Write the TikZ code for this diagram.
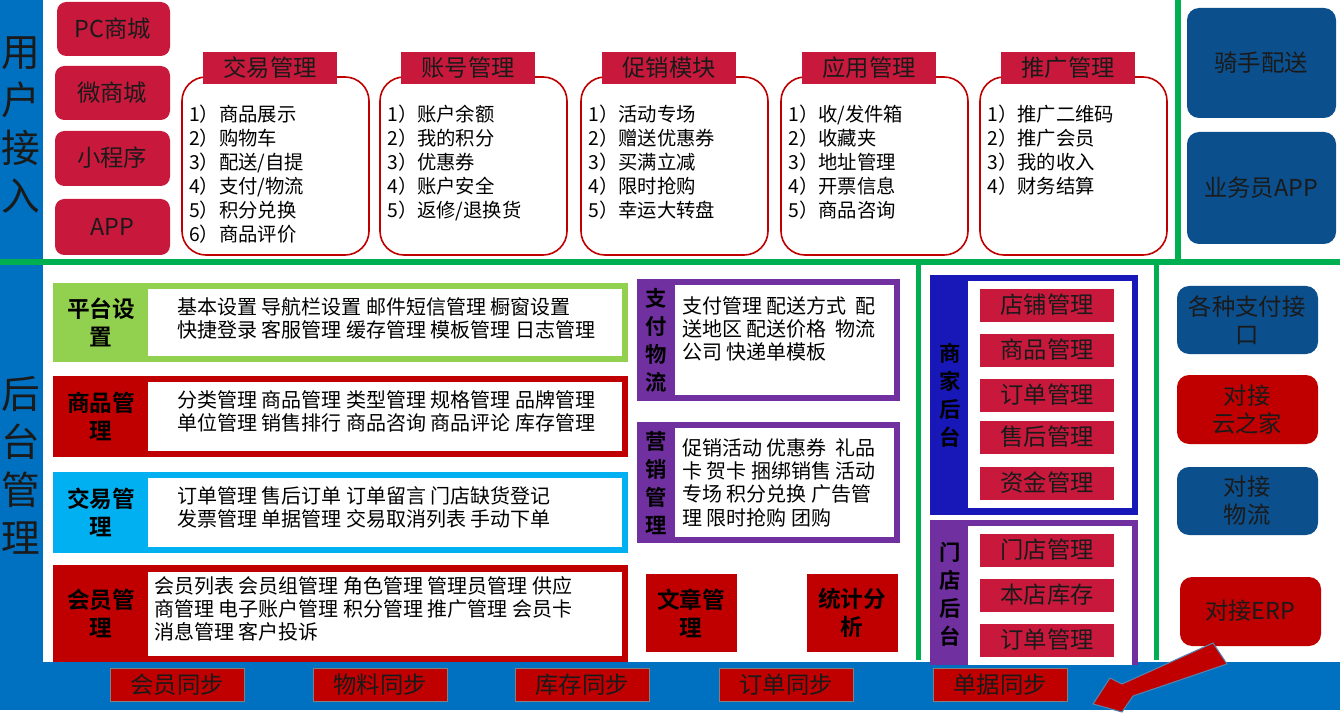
\documentclass[tikz,border=0pt]{standalone}
\usepackage{fontspec}
\setmainfont{Noto Sans CJK SC}
\newfontfamily\cjkb{Noto Sans CJK SC Bold}
\definecolor{bbar}{HTML}{0070C0}
\definecolor{gline}{HTML}{00B050}
\definecolor{crim}{HTML}{C8193C}
\definecolor{dred}{HTML}{C00000}
\definecolor{nblue}{HTML}{0B4F8C}
\definecolor{lgreen}{HTML}{92D050}
\definecolor{cyanb}{HTML}{00B0F0}
\definecolor{purp}{HTML}{7030A0}
\definecolor{rblue}{HTML}{1818B8}
\definecolor{dtext}{HTML}{1A1A1A}
\tikzset{
 btxt/.style={font=\fontsize{17.5}{19}\selectfont,text=dtext},
 btxtc/.style={font=\fontsize{17.5}{21}\selectfont,text=dtext,align=center},
 lst/.style={anchor=north west,align=left,font=\fontsize{14.5}{18}\selectfont,text=black,inner sep=0pt},
 rowlab/.style={font=\cjkb\fontsize{17}{21}\selectfont,align=center,text=black},
 collab/.style={font=\cjkb\fontsize{16}{21}\selectfont,align=center,text=black},
 rowtxt/.style={anchor=north west,align=left,font=\fontsize{15}{17.5}\selectfont,text=black,inner sep=0pt},
}
\begin{document}
\begin{tikzpicture}[x=0.75pt,y=-0.75pt]
\useasboundingbox (0,0) rectangle (1340,713);
\fill[white] (0,0) rectangle (1340,713);
\fill[bbar] (0,0) rectangle (43,665);
\fill[bbar] (0,662) rectangle (1340,710);
\node[font=\fontsize{29}{36}\selectfont,align=center,text=dtext] (ua) at (21,125) {用\\户\\接\\入};
\node[font=\fontsize{29}{36}\selectfont,align=center,text=dtext] (ht) at (21,465) {后\\台\\管\\理};
\fill[gline] (0,259) rectangle (1340,265);
\fill[gline] (1175,0) rectangle (1181,262);
\fill[gline] (916,262) rectangle (921,660);
\fill[gline] (1154,262) rectangle (1159,660);
\fill[crim,rounded corners=7pt] (57,2) rectangle (170,56);
\fill[crim,rounded corners=7pt] (55,66) rectangle (170,120);
\fill[crim,rounded corners=7pt] (55,131) rectangle (170,186);
\fill[crim,rounded corners=7pt] (55,199) rectangle (170,255);
\node[btxt] (pct) at (113,29) {PC商城};
\node[btxt] (wsc) at (112,93) {微商城};
\node[btxt] (xcx) at (112,158) {小程序};
\node[btxt] (app) at (112,227) {APP};
\foreach \x/\t/\l [count=\i] in {
 182/交易管理/{1）商品展示\\2）购物车\\3）配送/自提\\4）支付/物流\\5）积分兑换\\6）商品评价},
 380/账号管理/{1）账户余额\\2）我的积分\\3）优惠券\\4）账户安全\\5）返修/退换货},
 581/促销模块/{1）活动专场\\2）赠送优惠券\\3）买满立减\\4）限时抢购\\5）幸运大转盘},
 781/应用管理/{1）收/发件箱\\2）收藏夹\\3）地址管理\\4）开票信息\\5）商品咨询},
 980/推广管理/{1）推广二维码\\2）推广会员\\3）我的收入\\4）财务结算}}{
 \draw[draw=dred,line width=1.2pt,rounded corners=18pt,fill=white] (\x,77) rectangle (\x+187,255);
 \fill[crim] (\x+21,52) rectangle (\x+155,84);
 \node[btxt] (gt\i) at (\x+88,68) {\t};
 \node[lst] (gl\i) at (\x+7,105) {\l};
}
\fill[nblue,rounded corners=9pt] (1187,8) rectangle (1336,118);
\fill[nblue,rounded corners=9pt] (1187,132) rectangle (1336,244);
\node[btxt] (qs) at (1261,63) {骑手配送};
\node[btxt] (yw) at (1261,188) {业务员APP};
\foreach \c/\ya/\yb/\lab/\txt [count=\i] in {
 lgreen/283/362/{平台设\\置}/{基本设置 导航栏设置 邮件短信管理 橱窗设置\\快捷登录 客服管理 缓存管理 模板管理 日志管理},
 dred/376/457/{商品管\\理}/{分类管理 商品管理 类型管理 规格管理 品牌管理\\单位管理 销售排行 商品咨询 商品评论 库存管理},
 cyanb/472/553/{交易管\\理}/{订单管理 售后订单 订单留言 门店缺货登记\\发票管理 单据管理 交易取消列表 手动下单}}{
 \fill[\c] (53,\ya) rectangle (628,\yb);
 \fill[white] (148,\ya+6) rectangle (622,\yb-6);
 \node[rowlab] (rl\i) at (101,{(\ya+\yb)/2}) {\lab};
 \node[rowtxt] (rt\i) at (177,\ya+14) {\txt};
}
\fill[dred] (53,565) rectangle (628,662);
\fill[white] (148,572) rectangle (622,656);
\node[rowlab] (rl4) at (101,613) {会员管\\理};
\node[rowtxt] (rt4) at (154,576) {会员列表 会员组管理 角色管理 管理员管理 供应\\商管理 电子账户管理 积分管理 推广管理 会员卡\\消息管理 客户投诉};
\fill[purp] (637,279) rectangle (900,401);
\fill[white] (675,285) rectangle (894,395);
\node[collab] (zf) at (656,340) {支\\付\\物\\流};
\node[rowtxt] (zft) at (682,296) {支付管理 配送方式\ \ 配\\送地区 配送价格\ \ 物流\\公司 快递单模板};
\fill[purp] (637,422) rectangle (900,543);
\fill[white] (675,428) rectangle (894,537);
\node[collab] (yx) at (656,483) {营\\销\\管\\理};
\node[rowtxt] (yxt) at (682,438) {促销活动 优惠券\ \ 礼品\\卡 贺卡 捆绑销售 活动\\专场 积分兑换 广告管\\理 限时抢购 团购};
\fill[dred] (646,574) rectangle (737,652);
\fill[dred] (807,574) rectangle (898,652);
\node[rowlab] (wz) at (691,613) {文章管\\理};
\node[rowlab] (tj) at (852,613) {统计分\\析};
\fill[rblue] (930,275) rectangle (1138,515);
\fill[white] (968,281) rectangle (1132,508);
\node[collab] (sj) at (950,395) {商\\家\\后\\台};
\foreach \ya/\t [count=\i] in {289/店铺管理,334/商品管理,379/订单管理,421/售后管理,467/资金管理}{
 \fill[crim] (980,\ya) rectangle (1114,\ya+33);
 \node[btxt] (sm\i) at (1047,\ya+16) {\t};
}
\fill[purp] (930,520) rectangle (1138,665);
\fill[white] (968,526) rectangle (1132,665);
\node[collab] (md) at (950,594) {门\\店\\后\\台};
\foreach \ya/\t [count=\i] in {534/门店管理,579/本店库存,624/订单管理}{
 \fill[crim] (980,\ya) rectangle (1114,\ya+33);
 \node[btxt] (mm\i) at (1047,\ya+16) {\t};
}
\fill[nblue,rounded corners=9pt] (1177,286) rectangle (1318,354);
\fill[dred,rounded corners=9pt] (1177,375) rectangle (1318,444);
\fill[nblue,rounded corners=9pt] (1177,467) rectangle (1318,535);
\fill[dred,rounded corners=9pt] (1180,577) rectangle (1321,646);
\node[btxtc] (r1) at (1247,320) {各种支付接\\口};
\node[btxtc] (r2) at (1247,410) {对接\\云之家};
\node[btxtc] (r3) at (1247,501) {对接\\物流};
\node[btxt] (r4) at (1250,611) {对接ERP};
\foreach \xa/\t [count=\i] in {110/会员同步,313/物料同步,515/库存同步,719/订单同步,933/单据同步}{
 \draw[fill=dred,draw=black!50] (\xa,668) rectangle (\xa+134,701);
 \node[btxt] (sy\i) at (\xa+67,685) {\t};
}
\draw[fill=dred,draw=nblue!70,line width=0.8pt] (1093,704) -- (1110,678) -- (1122,684) -- (1213,643) -- (1227,664) -- (1133,696) -- (1122,712) -- cycle;
\end{tikzpicture}
\end{document}
